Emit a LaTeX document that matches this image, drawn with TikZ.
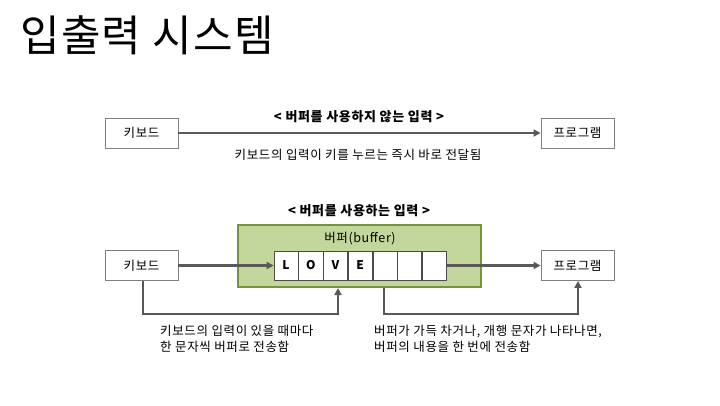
\documentclass[tikz,border=0pt]{standalone}
\usepackage{fontspec}
\setmainfont{Noto Sans CJK KR}
\newfontfamily\kr[LetterSpace=5]{Noto Sans CJK KR}
\newfontfamily\krt[LetterSpace=3]{Noto Sans CJK KR}
\usetikzlibrary{arrows.meta}
\definecolor{gfill}{RGB}{195,214,155}
\definecolor{gdraw}{RGB}{118,146,60}
\definecolor{arr}{RGB}{89,89,89}
\definecolor{bx}{RGB}{128,128,128}
\tikzset{
  boxn/.style={draw=bx, line width=0.8pt, fill=white, minimum width=73pt, minimum height=30pt, inner sep=0pt, font=\kr\fontsize{12.5}{15}\selectfont},
  cell/.style={draw=black!70, line width=0.6pt, fill=white, minimum width=24.1pt, minimum height=29pt, inner sep=0pt, font=\kr\bfseries\fontsize{12}{14}\selectfont},
  conn/.style={draw=arr, line width=2.4pt, -{Triangle[length=7pt,width=7pt]}},
  lbl/.style={font=\kr\fontsize{12.5}{16}\selectfont, inner sep=0pt},
  hdr/.style={font=\kr\bfseries\fontsize{13}{15}\selectfont, inner sep=0pt},
}
\begin{document}
\begin{tikzpicture}[x=1pt,y=-1pt]
\useasboundingbox (0,0) rectangle (720,405);
\node[anchor=west, font=\krt\fontsize{43}{48}\selectfont, inner sep=0pt] (title) at (20,35) {입출력 시스템};

% top row
\node[boxn] (kb1) at (141.5,133) {키보드};
\node[boxn] (pg1) at (577.5,133) {프로그램};
\draw[conn] (kb1) -- (pg1);
\node[hdr] (h1) at (359,117) {< 버퍼를 사용하지 않는 입력 >};
\node[lbl] (d1) at (358,155) {키보드의 입력이 키를 누르는 즉시 바로 전달됨};

% bottom row
\node[hdr] (h2) at (359,211) {< 버퍼를 사용하는 입력 >};
\node[draw=gdraw, line width=2pt, fill=gfill, minimum width=243pt, minimum height=62pt, inner sep=0pt] (buf) at (359.5,256) {};
\node[lbl] (bl) at (360,239) {버퍼(buffer)};
\node[cell] (c1) at (286.05,265.5) {L};
\node[cell, anchor=west] (c2) at (c1.east) {O};
\node[cell, anchor=west] (c3) at (c2.east) {V};
\node[cell, anchor=west] (c4) at (c3.east) {E};
\node[cell, anchor=west] (c5) at (c4.east) {};
\node[cell, anchor=west] (c6) at (c5.east) {};
\node[cell, anchor=west] (c7) at (c6.east) {};
\node[boxn] (kb2) at (141.5,265.5) {키보드};
\node[boxn] (pg2) at (577.5,265.5) {프로그램};
\draw[conn] (kb2) -- (c1);
\draw[conn] (c7) -- (pg2);

\coordinate (a1) at (143,314);
\coordinate (a2) at (338,314);
\draw[conn] (kb2.south -| a1) -- (a1) -- (a2) -- (a2 |- buf.south);
\coordinate (b1) at (384,314);
\coordinate (b2) at (578,314);
\draw[conn] (b1 |- buf.south) -- (b1) -- (b2) -- (pg2.south -| b2);

\node[lbl, anchor=north west, align=left] (d2) at (160,325) {키보드의 입력이 있을 때마다\\한 문자씩 버퍼로 전송함};
\node[lbl, anchor=north west, align=left] (d3) at (374,325) {버퍼가 가득 차거나, 개행 문자가 나타나면,\\버퍼의 내용을 한 번에 전송함};
\end{tikzpicture}
\end{document}
